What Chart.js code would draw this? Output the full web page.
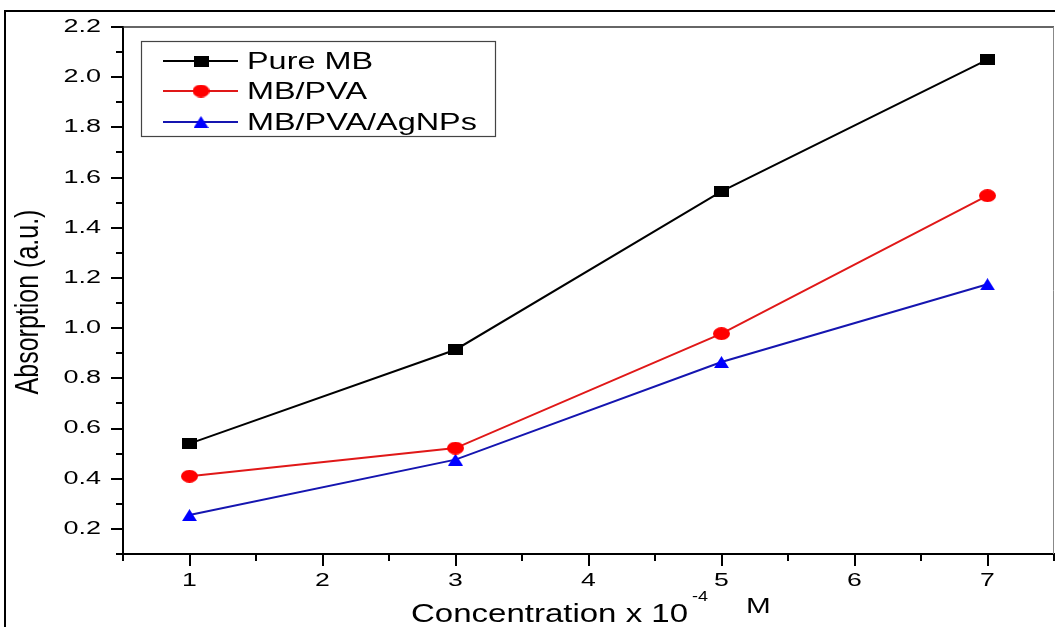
<!DOCTYPE html>
<html>
<head>
<meta charset="utf-8">
<script src="https://cdn.jsdelivr.net/npm/chart.js@4"></script>
<style>
  html, body { margin: 0; padding: 0; background: #fff; }
  canvas { display: block; }
</style>
</head>
<body>
<canvas id="chart" width="1055" height="627"></canvas>
<script>
// --- Data ---
const concentration = [1, 3, 5, 7];
const pureMB = [0.54, 0.914, 1.545, 2.07];
const mbPVA = [0.41, 0.522, 0.978, 1.528];
const mbPVAAg = [0.255, 0.476, 0.865, 1.175];

const seriesNames = ['Pure MB', 'MB/PVA', 'MB/PVA/AgNPs'];
const xTickValues = [1, 2, 3, 4, 5, 6, 7];
const xMinorValues = [0.5, 1.5, 2.5, 3.5, 4.5, 5.5, 6.5, 7.5];
const yTickValues = [0.2, 0.4, 0.6, 0.8, 1.0, 1.2, 1.4, 1.6, 1.8, 2.0, 2.2];
const yMinorValues = [0.1, 0.3, 0.5, 0.7, 0.9, 1.1, 1.3, 1.5, 1.7, 1.9, 2.1];

const FONT = '"Liberation Sans", Arial, sans-serif';

// --- Markers are a bit wider than tall in the source, so draw them as small canvases ---
function markerCanvas(w, h, draw) {
  const c = document.createElement('canvas');
  c.width = w;
  c.height = h;
  draw(c.getContext('2d'), w, h);
  return c;
}

const squareMark = markerCanvas(15, 11, (g, w, h) => {
  g.fillStyle = '#000';
  g.fillRect(0, 0, w, h);
});
const circleMark = markerCanvas(17, 13, (g, w, h) => {
  g.fillStyle = '#ff0000';
  g.beginPath();
  g.ellipse(w / 2, h / 2, w / 2, h / 2, 0, 0, Math.PI * 2);
  g.fill();
});
const triangleMark = markerCanvas(15, 12, (g, w, h) => {
  g.fillStyle = '#0000ff';
  g.beginPath();
  g.moveTo(w / 2, 0);
  g.lineTo(w, h);
  g.lineTo(0, h);
  g.closePath();
  g.fill();
});

const lineColors = ['#000000', '#e01818', '#1515b0'];
const markers = [squareMark, circleMark, triangleMark];

function toPoints(ys) {
  return concentration.map((x, i) => ({ x, y: ys[i] }));
}

// stretched text helper (source text is horizontally widened)
function sText(ctx, str, x, y, sx, size, align, baseline) {
  ctx.save();
  ctx.translate(x, y);
  ctx.scale(sx, 1);
  ctx.font = `${size}px ${FONT}`;
  ctx.fillStyle = '#000';
  ctx.textAlign = align || 'left';
  ctx.textBaseline = baseline || 'alphabetic';
  ctx.fillText(str, 0, 0);
  ctx.restore();
}

// --- Decorations: minor ticks, labels, titles, legend, frames ---
const decorPlugin = {
  id: 'decor',
  afterDraw(chart) {
    const { ctx, chartArea: a, scales } = chart;
    const xs = scales.x;
    const ys = scales.y;

    ctx.save();
    ctx.strokeStyle = '#000';
    ctx.lineWidth = 2;

    // minor ticks
    ctx.beginPath();
    xMinorValues.forEach((v) => {
      const px = Math.round(xs.getPixelForValue(v));
      ctx.moveTo(px, a.bottom);
      ctx.lineTo(px, a.bottom + 7);
    });
    yMinorValues.forEach((v) => {
      const py = Math.round(ys.getPixelForValue(v));
      ctx.moveTo(a.left, py);
      ctx.lineTo(a.left - 7, py);
    });
    ctx.stroke();

    // top and right frame of the plot
    ctx.lineWidth = 1.5;
    ctx.strokeStyle = '#333';
    ctx.beginPath();
    ctx.moveTo(a.left, a.top);
    ctx.lineTo(a.right, a.top);
    ctx.stroke();
    ctx.lineWidth = 1;
    ctx.strokeStyle = '#888';
    ctx.beginPath();
    ctx.moveTo(a.right - 0.5, a.top);
    ctx.lineTo(a.right - 0.5, a.bottom);
    ctx.stroke();

    // outer frame (only left and top visible)
    ctx.lineWidth = 2;
    ctx.strokeStyle = '#000';
    ctx.beginPath();
    ctx.moveTo(5, chart.height);
    ctx.lineTo(5, 11);
    ctx.lineTo(chart.width, 11);
    ctx.stroke();

    // tick labels
    yTickValues.forEach((v) => {
      sText(ctx, v.toFixed(1), 101, ys.getPixelForValue(v), 1.5, 18, 'right', 'middle');
    });
    xTickValues.forEach((v) => {
      sText(ctx, String(v), xs.getPixelForValue(v), 581, 1.4, 19, 'center', 'middle');
    });

    // axis titles
    sText(ctx, 'Concentration x 10', 411, 622, 1.32, 25, 'left');
    sText(ctx, '-4', 692, 601, 1.2, 15, 'left');
    sText(ctx, 'M', 746, 613, 1.35, 22, 'left');

    ctx.save();
    ctx.translate(29, 302);
    ctx.scale(1.3, 1);
    ctx.rotate(-Math.PI / 2);
    ctx.font = `25px ${FONT}`;
    ctx.fillStyle = '#000';
    ctx.textAlign = 'center';
    ctx.textBaseline = 'middle';
    ctx.fillText('Absorption (a.u.)', 0, 0);
    ctx.restore();

    // legend box
    ctx.lineWidth = 1.2;
    ctx.strokeStyle = '#444';
    ctx.strokeRect(141.5, 41.5, 354, 95);
    const rowY = [61, 91, 122];
    seriesNames.forEach((name, i) => {
      const y = rowY[i];
      ctx.lineWidth = 2;
      ctx.strokeStyle = lineColors[i];
      ctx.beginPath();
      ctx.moveTo(163, y);
      ctx.lineTo(238, y);
      ctx.stroke();
      const m = markers[i];
      ctx.drawImage(m, 201 - m.width / 2, y - m.height / 2);
      sText(ctx, name, 247, y + 1, 1.35, 24, 'left', 'middle');
    });

    ctx.restore();
  },
};

const datasets = [pureMB, mbPVA, mbPVAAg].map((ys, i) => ({
  label: seriesNames[i],
  data: toPoints(ys),
  showLine: true,
  borderColor: lineColors[i],
  borderWidth: 2,
  pointStyle: markers[i],
  pointRadius: 7,
  pointHoverRadius: 7,
  order: i,
}));

new Chart(document.getElementById('chart'), {
  type: 'scatter',
  data: { datasets },
  plugins: [decorPlugin],
  options: {
    responsive: false,
    animation: false,
    devicePixelRatio: 1,
    layout: { autoPadding: false, padding: { top: 27, right: 1, left: 0, bottom: 0 } },
    plugins: {
      legend: { display: false },
      tooltip: { enabled: false },
    },
    scales: {
      x: {
        type: 'linear',
        min: 0.5,
        max: 7.5,
        afterBuildTicks: (scale) => {
          scale.ticks = xTickValues.map((v) => ({ value: v }));
        },
        afterFit: (scale) => {
          scale.height = 73;
          scale.paddingLeft = 0;
          scale.paddingRight = 0;
        },
        ticks: { display: false },
        grid: {
          drawOnChartArea: false,
          drawTicks: true,
          tickLength: 12,
          color: '#000',
          lineWidth: 2,
        },
        border: { color: '#000', width: 2 },
      },
      y: {
        type: 'linear',
        min: 0.1,
        max: 2.2,
        afterBuildTicks: (scale) => {
          scale.ticks = yTickValues.map((v) => ({ value: v }));
        },
        afterFit: (scale) => {
          scale.width = 123;
          scale.paddingTop = 0;
          scale.paddingBottom = 0;
        },
        ticks: { display: false },
        grid: {
          drawOnChartArea: false,
          drawTicks: true,
          tickLength: 12,
          color: '#000',
          lineWidth: 2,
        },
        border: { color: '#000', width: 2 },
      },
    },
  },
});
</script>
</body>
</html>
